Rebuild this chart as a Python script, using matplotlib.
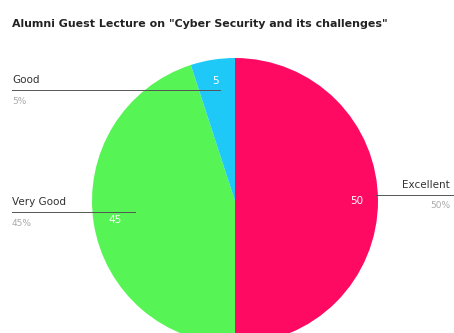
import numpy as np
import matplotlib
matplotlib.use("Agg")
import matplotlib.pyplot as plt

title = 'Alumni Guest Lecture on "Cyber Security and its challenges"'
categories = ["Excellent", "Very Good", "Good"]
counts = [50, 45, 5]
percents = ["50%", "45%", "5%"]
colors = ["#ff0a62", "#57f456", "#1ec9f7"]

W, H = 454, 333
fig = plt.figure(figsize=(W / 100, H / 100), dpi=100)
ax = fig.add_axes([0, 0, 1, 1])

cx, cy, r = 235, H - 201, 143
wedges, _ = ax.pie(counts, colors=colors, startangle=90, counterclock=False,
                   center=(cx, cy), radius=r, frame=True,
                   wedgeprops=dict(linewidth=0))
ax.set_xlim(0, W)
ax.set_ylim(0, H)
ax.set_aspect("equal")
ax.axis("off")

# label placement: (label x, label y in px from top, line end x, ha)
layout = {
    "Excellent": (450, 185, 375, "right"),
    "Very Good": (12, 202, 135, "left"),
    "Good": (12, 80, 220, "left"),
}
for w, cat, n, pct in zip(wedges, categories, counts, percents):
    mid = np.deg2rad((w.theta1 + w.theta2) / 2)
    ix = cx + 0.85 * r * np.cos(mid)
    iy = cy + 0.85 * r * np.sin(mid)
    ax.text(ix, iy, str(n), color="white", fontsize=7.5, ha="center", va="center")
    lx, ly, ex, ha = layout[cat]
    ax.text(lx, H - ly, cat, fontsize=7.5, color="#333333", ha=ha, va="center")
    ax.text(lx, H - ly - 21, pct, fontsize=6.5, color="#aaaaaa", ha=ha, va="center")
    y_line = H - ly - 10
    x0 = 12 if ha == "left" else ex
    x1 = ex if ha == "left" else W
    ax.plot([x0, x1], [y_line, y_line], color="#555555", lw=0.7)

fig.text(12 / W, 1 - 24 / H, title, fontsize=7.9, fontweight="bold", color="#222222",
         ha="left", va="center")

fig.savefig("out.png", dpi=100)
